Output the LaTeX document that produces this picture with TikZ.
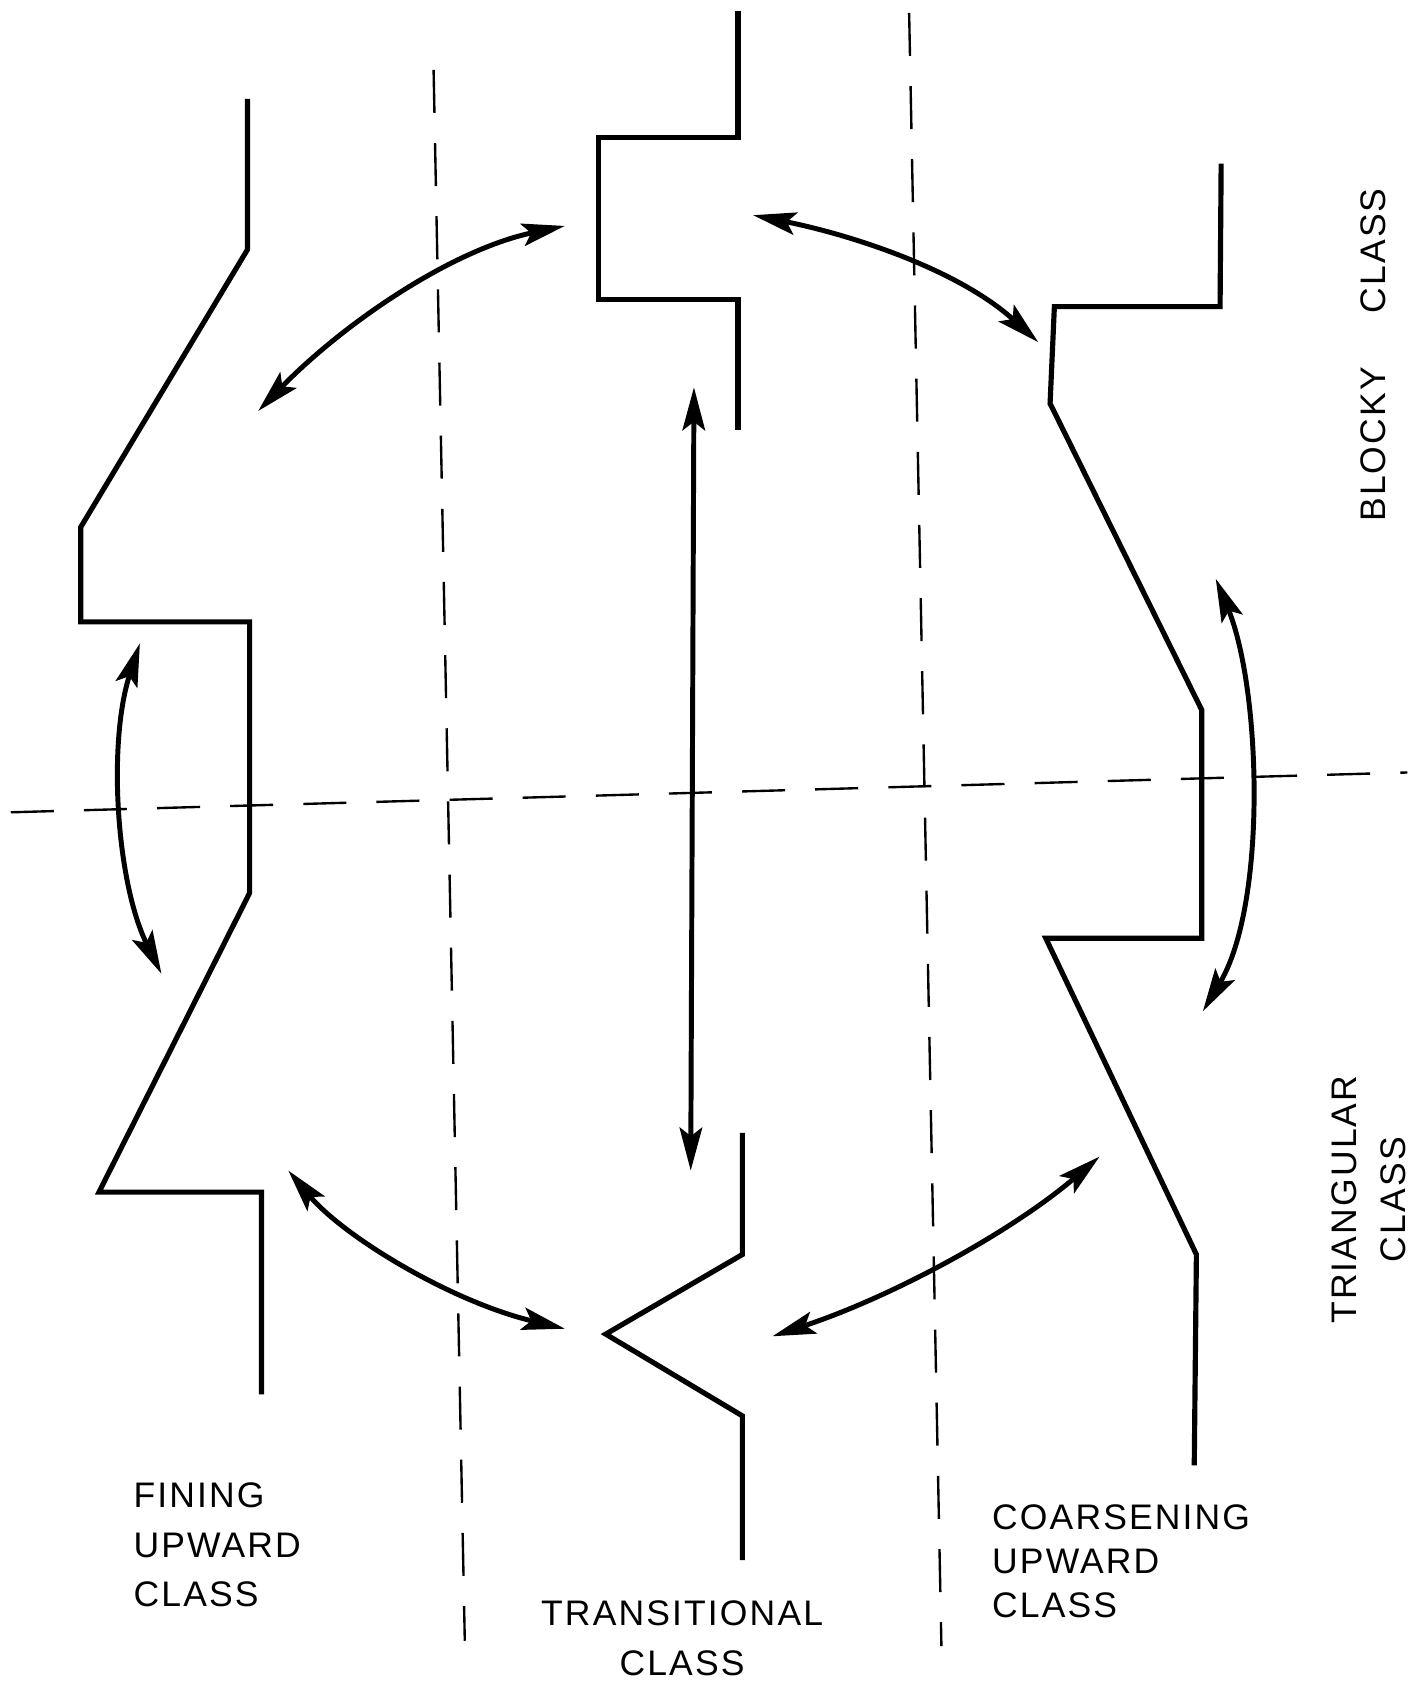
\documentclass[tikz,border=0pt]{standalone}
\usepackage{fontspec}
\setmainfont{Liberation Sans}
\usetikzlibrary{arrows.meta}
\begin{document}
\begin{tikzpicture}[x=1pt,y=-1pt,
  log/.style={line width=4.8pt,line join=miter,line cap=butt},
  guide/.style={line width=2.2pt,dash pattern=on 40pt off 28pt},
  link/.style={line width=4.6pt,{Stealth[length=40pt,width=21pt,inset=8pt]}-{Stealth[length=40pt,width=21pt,inset=8pt]}},
  lbl/.style={font=\fontsize{33}{46}\selectfont\addfontfeature{LetterSpace=6},inner sep=0pt}]
\useasboundingbox (0,0) rectangle (1320,1568);
% guide lines
\draw[guide] (403,65) -- (432,1525);
\draw[guide] (845,12) -- (875,1530);
\draw[guide] (10,755) -- (1308,718);
% fining upward log
\draw[log] (230,92) -- (230,232) -- (75,490) -- (75,578) -- (232,578) -- (232,830) -- (92,1108) -- (243,1108) -- (243,1296);
% blocky log (middle top)
\draw[log] (686,10) -- (686,128) -- (556,128) -- (556,278) -- (686,278) -- (686,400);
% transitional log (middle bottom)
\draw[log] (690,1053) -- (690,1166) -- (563,1240) -- (690,1316) -- (690,1450);
% coarsening upward log (right)
\draw[log] (1135,152) -- (1134,285) -- (980,285) -- (976,375) -- (1117,660) -- (1117,872) -- (972,872) -- (1112,1166) -- (1110,1362);
% connector end points
\coordinate (tl1) at (240,382);
\coordinate (tl2) at (525,210);
\coordinate (tr1) at (700,200);
\coordinate (tr2) at (965,318);
\coordinate (v1) at (645,360);
\coordinate (v2) at (642,1088);
\coordinate (l1) at (130,598);
\coordinate (l2) at (150,905);
\coordinate (r1) at (1130,538);
\coordinate (r2) at (1118,940);
\coordinate (bl1) at (268,1088);
\coordinate (bl2) at (525,1235);
\coordinate (br1) at (1022,1075);
\coordinate (br2) at (718,1242);
% connectors
\draw[link] (tl1) .. controls (320,300) and (420,232) .. (tl2);
\draw[link] (tr1) .. controls (790,218) and (890,250) .. (tr2);
\draw[link] (v1) -- (v2);
\draw[link] (l1) .. controls (100,690) and (108,820) .. (l2);
\draw[link] (r1) .. controls (1172,640) and (1178,840) .. (r2);
\draw[link] (bl1) .. controls (320,1150) and (420,1210) .. (bl2);
\draw[link] (br1) .. controls (940,1145) and (830,1205) .. (br2);
% labels
\node[lbl,rotate=90] (blocky) at (1276,330) {BLOCKY\hspace{50pt}CLASS};
\node[lbl,rotate=90,align=center] (triang) at (1272,1115) {TRIANGULAR\\CLASS};
\node[lbl,anchor=north west,align=left] (fining) at (124,1378) {FINING\\UPWARD\\CLASS};
\node[lbl,anchor=north,align=center] (trans) at (634,1488) {TRANSITIONAL\\CLASS};
\node[lbl,anchor=north west,align=left,font=\fontsize{33}{41}\selectfont\addfontfeature{LetterSpace=6}] (coars) at (922,1398) {COARSENING\\UPWARD\\CLASS};
\end{tikzpicture}
\end{document}
